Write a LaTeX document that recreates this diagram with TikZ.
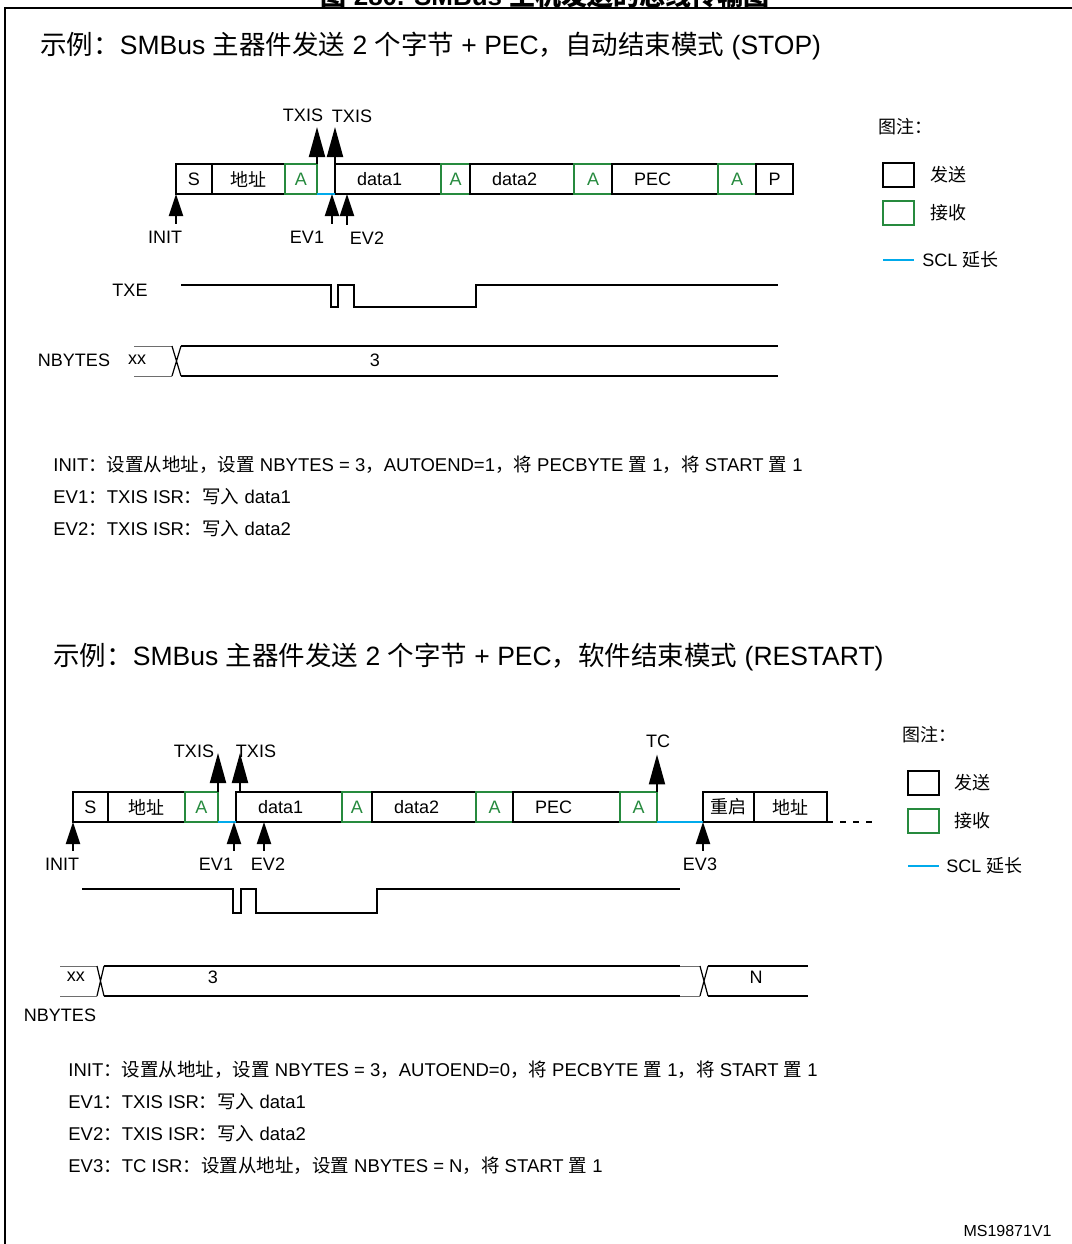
\documentclass[tikz,border=0pt]{standalone}
\usepackage{fontspec}
\setmainfont{Liberation Sans}
\newfontfamily\cjk{Noto Sans CJK SC}
\newcommand{\zh}[1]{{\cjk #1}}
\usetikzlibrary{arrows.meta,positioning}
\definecolor{ackgreen}{RGB}{38,138,62}
\definecolor{sclblue}{RGB}{0,170,235}
\definecolor{idlegray}{RGB}{110,110,110}
\tikzset{
  txbox/.style={draw, line width=1pt, minimum height=15pt, inner sep=0pt, outer sep=0pt},
  rxbox/.style={txbox, draw=ackgreen, text=ackgreen},
  datbox/.style={txbox, text width=#1, inner xsep=11pt, align=left},
  gapbox/.style={minimum height=15pt, inner sep=0pt, outer sep=0pt},
  legbox/.style={minimum width=15.5pt, minimum height=12pt},
  scl/.style={sclblue, line width=1pt},
  uparr/.style={line width=1pt, -{Triangle[width=8pt,length=15pt]}},
  dnarr/.style={line width=1pt, -{Triangle[width=7pt,length=11pt]}},
  wave/.style={line width=1pt},
  idle/.style={idlegray, line width=0.5pt},
  cross/.style={line width=0.6pt},
  note/.style={anchor=west, inner sep=0pt},
  desc/.style={note, font=\fontsize{9.25}{11}\selectfont},
  headline/.style={anchor=west, inner sep=0pt, font=\fontsize{13.25}{16}\selectfont}
}
\begin{document}
\begin{tikzpicture}[x=0.5pt, y=-0.5pt, font=\fontsize{9}{11}\selectfont]
\useasboundingbox (0,0) rectangle (1072,1244);
\node[anchor=base, font=\fontsize{13}{15}\selectfont\bfseries] (fig) at (545,5) {\zh{图} 280. SMBus \zh{主机发送的总线传输图}};
\draw[line width=1pt] (5,1244) -- (5,8) -- (1072,8);

% auto end (STOP)
\node[headline] (title1) at (40,46) {\zh{示例：}SMBus \zh{主器件发送} 2 \zh{个字节} + PEC\zh{，自动结束模式} (STOP)};
\node[txbox, minimum width=18pt, anchor=west] (s1) at (176,179) {S};
\node[txbox, minimum width=36.5pt, right=0pt of s1] (adr1) {\zh{地址}};
\node[rxbox, minimum width=16pt, right=0pt of adr1] (ka1) {A};
\node[gapbox, minimum width=9pt, right=0pt of ka1] (gap1) {};
\node[datbox=31pt, right=0pt of gap1] (dat1) {data1};
\node[rxbox, minimum width=14.5pt, right=0pt of dat1] (kb1) {A};
\node[datbox=30pt, right=0pt of kb1] (datb1) {data2};
\node[rxbox, minimum width=19pt, right=0pt of datb1] (kc1) {A};
\node[datbox=31pt, right=0pt of kc1] (pec1) {PEC};
\node[rxbox, minimum width=19pt, right=0pt of pec1] (kd1) {A};
\node[txbox, minimum width=18.5pt, right=0pt of kd1] (stop1) {P};
\draw[scl] (gap1.south west) -- (gap1.south east);

\node (txis1a) at (303,115) {TXIS};\node (txis1b) at (352,116) {TXIS};
\coordinate (tip1a) at (317,127);\coordinate (tip1b) at (335,127);
\draw[uparr] (ka1.north east) -- (tip1a);\draw[uparr] (dat1.north west) -- (tip1b);
\node (init1) at (165,237) {INIT};\node (ev1a) at (307,237) {EV1};\node (ev2a) at (367,238) {EV2};
\coordinate (ev1tip) at (332,194);\coordinate (ev2tip) at (347,194);
\draw[dnarr] (s1.south west |- init1.north) -- (s1.south west);
\draw[dnarr] (ev1tip |- ev1a.north) -- (ev1tip);\draw[dnarr] (ev2tip |- ev2a.north) -- (ev2tip);

\node (txe1) at (130,290) {TXE};
\draw[wave] (181,285) -- (331,285) -- (331,307) -- (338,307) -- (338,285) -- (354,285) -- (354,307) -- (476,307) -- (476,285) -- (778,285);
\node (nb1) at (74,360) {NBYTES};\node (xx1) at (137,360) {xx};\node (n3a) at (375,360) {3};
\draw[idle] (134,346) -- (172,346) (134,376) -- (172,376);
\draw[cross] (172,346) -- (181,376) (172,376) -- (181,346);
\draw[wave] (181,346) -- (778,346) (181,376) -- (778,376);

\node[desc] (d1a) at (53,465) {INIT\zh{：设置从地址，设置} NBYTES = 3\zh{，}AUTOEND=1\zh{，将} PECBYTE \zh{置} 1\zh{，将} START \zh{置} 1};
\node[desc] (d1b) at (53,497) {EV1\zh{：}TXIS ISR\zh{：写入} data1};
\node[desc] (d1c) at (53,529) {EV2\zh{：}TXIS ISR\zh{：写入} data2};

\node[note] (leg1) at (878,127) {\zh{图注：}};
\node[txbox, legbox] (leg1tx) at (898.5,175) {};\node[rxbox, legbox] (leg1rx) at (898.5,213) {};
\node[note, right=8pt of leg1tx] (leg1a) {\zh{发送}};\node[note, right=8pt of leg1rx] (leg1b) {\zh{接收}};
\node[note] (leg1c) at (922,260) {SCL \zh{延长}};
\draw[scl] (leg1tx.west |- leg1c.west) -- (leg1tx.east |- leg1c.west);

% software end (RESTART)
\node[headline] (title2) at (53,657) {\zh{示例：}SMBus \zh{主器件发送} 2 \zh{个字节} + PEC\zh{，软件结束模式} (RESTART)};
\node[txbox, minimum width=17.5pt, anchor=west] (s2) at (73,807) {S};
\node[txbox, minimum width=38.5pt, right=0pt of s2] (adr2) {\zh{地址}};
\node[rxbox, minimum width=16.5pt, right=0pt of adr2] (ka2) {A};
\node[gapbox, minimum width=9pt, right=0pt of ka2] (gap2) {};
\node[datbox=31pt, right=0pt of gap2] (dat2) {data1};
\node[rxbox, minimum width=15pt, right=0pt of dat2] (kb2) {A};
\node[datbox=30pt, right=0pt of kb2] (datb2) {data2};
\node[rxbox, minimum width=18.5pt, right=0pt of datb2] (kc2) {A};
\node[datbox=31.5pt, right=0pt of kc2] (pec2) {PEC};
\node[rxbox, minimum width=18.5pt, right=0pt of pec2] (kd2) {A};
\node[gapbox, minimum width=23pt, right=0pt of kd2] (gap2b) {};
\node[txbox, minimum width=25.5pt, right=0pt of gap2b] (rst2) {\zh{重启}};
\node[txbox, minimum width=36.5pt, right=0pt of rst2] (adr2b) {\zh{地址}};
\draw[scl] (gap2.south west) -- (gap2.south east);\draw[scl] (gap2b.south west) -- (gap2b.south east);
\coordinate (dots2) at (872,822);
\draw[line width=1pt, dash pattern=on 3pt off 3.5pt] (adr2b.south east) -- (dots2);

\node (txis2a) at (194,751) {TXIS};\node (txis2b) at (256,751) {TXIS};\node (tc2) at (658,741) {TC};
\coordinate (tip2a) at (218,753);\coordinate (tip2b) at (240,753);
\draw[uparr] (ka2.north east) -- (tip2a);\draw[uparr] (tip2b |- dat2.north) -- (tip2b);
\draw[uparr] (kd2.north east) -- (kd2.north east |- tc2.south);
\node (init2) at (62,864) {INIT};\node (ev1b) at (216,864) {EV1};\node (ev2b) at (268,864) {EV2};\node (ev3b) at (700,864) {EV3};
\coordinate (ev1tip2) at (234,822);\coordinate (ev2tip2) at (264,822);
\draw[dnarr] (s2.south west |- init2.north) -- (s2.south west);
\draw[dnarr] (ev1tip2 |- ev1b.north) -- (ev1tip2);\draw[dnarr] (ev2tip2 |- ev2b.north) -- (ev2tip2);
\draw[dnarr] (rst2.south west |- ev3b.north) -- (rst2.south west);

\draw[wave] (82,889) -- (233,889) -- (233,913) -- (241,913) -- (241,889) -- (256,889) -- (256,913) -- (377,913) -- (377,889) -- (680,889);
\node (xx2) at (76,977) {xx};\node (n3b) at (213,977) {3};\node (nN) at (756,977) {N};\node (nb2) at (60,1015) {NBYTES};
\draw[idle] (60,966) -- (97,966) (60,996) -- (97,996) (680,966) -- (700,966) (680,996) -- (700,996);
\draw[cross] (97,966) -- (104,996) (97,996) -- (104,966) (700,966) -- (708,996) (700,996) -- (708,966);
\draw[wave] (104,966) -- (680,966) (104,996) -- (680,996) (708,966) -- (808,966) (708,996) -- (808,996);

\node[desc] (d2a) at (68,1070) {INIT\zh{：设置从地址，设置} NBYTES = 3\zh{，}AUTOEND=0\zh{，将} PECBYTE \zh{置} 1\zh{，将} START \zh{置} 1};
\node[desc] (d2b) at (68,1102) {EV1\zh{：}TXIS ISR\zh{：写入} data1};
\node[desc] (d2c) at (68,1134) {EV2\zh{：}TXIS ISR\zh{：写入} data2};
\node[desc] (d2d) at (68,1166) {EV3\zh{：}TC ISR\zh{：设置从地址，设置} NBYTES = N\zh{，将} START \zh{置} 1};

\node[note] (leg2) at (902,735) {\zh{图注：}};
\node[txbox, legbox] (leg2tx) at (923.5,782.5) {};\node[rxbox, legbox] (leg2rx) at (923.5,820.5) {};
\node[note, right=7.5pt of leg2tx] (leg2a) {\zh{发送}};\node[note, right=7.5pt of leg2rx] (leg2b) {\zh{接收}};
\node[note] (leg2c) at (946,866) {SCL \zh{延长}};
\draw[scl] (leg2tx.west |- leg2c.west) -- (leg2tx.east |- leg2c.west);

\node[anchor=east, inner sep=0pt, font=\fontsize{8}{10}\selectfont] (msid) at (1052,1231) {MS19871V1};
\end{tikzpicture}
\end{document}
